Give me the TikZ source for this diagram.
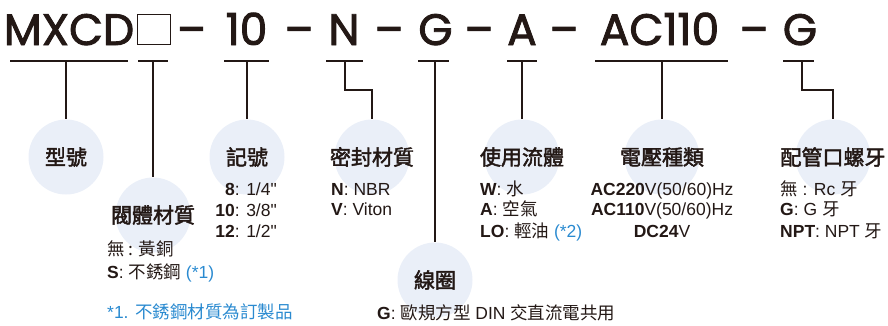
\documentclass[tikz,border=0pt]{standalone}
\usepackage{fontspec}
\setmainfont{Liberation Sans}
\newfontfamily\cjkfont{Noto Sans CJK TC}
\newfontfamily\qfont{Liberation Sans}
\newfontfamily\ttlfont{Poppins}
\newcommand\zhx[1]{{\cjkfont #1}}
\newcommand\qq{{\qfont"}}
\newcommand\heavy[2]{\special{pdf:literal direct 2 Tr #1 w}#2\special{pdf:literal direct 0 Tr 1 w}}
\definecolor{inkc}{HTML}{231815}
\definecolor{circc}{HTML}{EAEFF8}
\definecolor{bluec}{HTML}{2A8AD0}
\begin{document}
\begin{tikzpicture}[x=1pt,y=-1pt,
  ttl/.style={anchor=base,inner sep=0,text=inkc,font=\ttlfont\fontsize{44}{44}\selectfont},
  dsh/.style={anchor=base,inner sep=0,text=inkc,font=\ttlfont\fontsize{44}{44}\selectfont},
  conn/.style={draw=inkc,line width=1.1pt},
  bub/.style={circle,fill=circc,minimum size=75pt,inner sep=0},
  head/.style={inner sep=0,text=inkc,font=\cjkfont\fontsize{21}{21}\selectfont},
  body/.style={inner sep=0,text=inkc,font=\fontsize{17.5}{21}\selectfont,anchor=base west},
]
\useasboundingbox (0,0) rectangle (888,325);
% title
\node[ttl] (t1) at (69,45) {\heavy{0.9}{MXCD}};
\node[draw=inkc,line width=1.6pt,minimum width=33pt,minimum height=30pt,inner sep=0] (t2) at (154,29.5) {};
\node[dsh] (d1) at (191.5,45) {\heavy{0.9}{\scalebox{0.7}[1]{—}}};
\node[ttl] (t3) at (246.5,45) {\heavy{0.9}{10}};
\node[dsh] (d2) at (299,45) {\heavy{0.9}{\scalebox{0.7}[1]{—}}};
\node[ttl] (t4) at (344,45) {\heavy{0.9}{N}};
\node[dsh] (d3) at (389,45) {\heavy{0.9}{\scalebox{0.7}[1]{—}}};
\node[ttl] (t5) at (435.5,45) {\heavy{0.9}{G}};
\node[dsh] (d4) at (479,45) {\heavy{0.9}{\scalebox{0.7}[1]{—}}};
\node[ttl] (t6) at (522,45) {\heavy{0.9}{A}};
\node[dsh] (d5) at (564,45) {\heavy{0.9}{\scalebox{0.7}[1]{—}}};
\node[ttl] (t7) at (659.5,45) {\heavy{0.9}{AC110}};
\node[dsh] (d6) at (754,45) {\heavy{0.9}{\scalebox{0.7}[1]{—}}};
\node[ttl] (t8) at (800,45) {\heavy{0.9}{G}};
% underline coordinates
\coordinate (u1a) at (10,61); \coordinate (u1b) at (128,61); \coordinate (u1m) at (66,61);
\coordinate (u2a) at (138,61); \coordinate (u2b) at (168,61); \coordinate (u2m) at (153,61);
\coordinate (u3a) at (224,61); \coordinate (u3b) at (269,61); \coordinate (u3m) at (247,61);
\coordinate (u4a) at (326,61); \coordinate (u4b) at (363,61); \coordinate (u4m) at (345,61);
\coordinate (u5a) at (418,61); \coordinate (u5b) at (449,61); \coordinate (u5m) at (435,61);
\coordinate (u6a) at (507,61); \coordinate (u6b) at (537,61); \coordinate (u6m) at (522,61);
\coordinate (u7a) at (595,61); \coordinate (u7b) at (728,61); \coordinate (u7m) at (662,61);
\coordinate (u8a) at (783,61); \coordinate (u8b) at (814,61); \coordinate (u8m) at (802,61);
% bubbles
\node[bub] (c1) at (66,157) {};
\node[bub] (c2) at (153,215) {};
\node[bub] (c3) at (247,157) {};
\node[bub] (c4) at (372,157) {};
\node[bub] (c5) at (435,280) {};
\node[bub] (c6) at (522,157) {};
\node[bub] (c7) at (662,157) {};
\node[bub] (c8) at (833,157) {};
% connectors
\foreach \i in {1,...,8} {\draw[conn] (u\i a) -- (u\i b);}
\draw[conn] (u1m) -- (c1.north);
\draw[conn] (u2m) -- (c2.north);
\draw[conn] (u3m) -- (c3.north);
\draw[conn] (u4m) -- (345,90) -| (c4.north);
\draw[conn] (u5m) -- (c5.north);
\draw[conn] (u6m) -- (c6.north);
\draw[conn] (u7m) -- (c7.north);
\draw[conn] (u8m) -- (802,90) -| (c8.north);
% headings
\node[head] (h1) at (c1) {\heavy{0.45}{型號}};
\node[head] (h2) at (c2) {\heavy{0.45}{閥體材質}};
\node[head] (h3) at (c3) {\heavy{0.45}{記號}};
\node[head] (h4) at (c4) {\heavy{0.45}{密封材質}};
\node[head] (h5) at (c5) {\heavy{0.45}{線圈}};
\node[head] (h6) at (c6) {\heavy{0.45}{使用流體}};
\node[head] (h7) at (c7) {\heavy{0.45}{電壓種類}};
\node[head] (h8) at (c8) {\heavy{0.45}{配管口螺牙}};
% bodies
\node[body,anchor=base east] (b3a) at (277,195) {\textbf{8}: 1/4\qq};
\node[body,anchor=base east] (b3b) at (277,216) {\textbf{10}: 3/8\qq};
\node[body,anchor=base east] (b3c) at (277,237) {\textbf{12}: 1/2\qq};
\node[body] (b2a) at (107,255) {\zhx{無 : 黃銅}};
\node[body] (b2b) at (107,278) {\textbf{S}: \zhx{不銹鋼} \textcolor{bluec}{(*1)}};
\node[body,text=bluec] (fn) at (107,318) {*1. \zhx{不銹鋼材質為訂製品}};
\node[body] (b4a) at (331,195) {\textbf{N}: NBR};
\node[body] (b4b) at (331,215) {\textbf{V}: Viton};
\node[body] (b6a) at (480,195) {\textbf{W}: \zhx{水}};
\node[body] (b6b) at (480,215) {\textbf{A}: \zhx{空氣}};
\node[body] (b6c) at (480,237) {\textbf{LO}: \zhx{輕油} \textcolor{bluec}{(*2)}};
\node[body,anchor=base] (b7a) at (662,195) {\textbf{AC220}V(50/60)Hz};
\node[body,anchor=base] (b7b) at (662,215) {\textbf{AC110}V(50/60)Hz};
\node[body,anchor=base] (b7c) at (662,237) {\textbf{DC24}V};
\node[body] (b8a) at (780,195) {\zhx{無} : Rc \zhx{牙}};
\node[body] (b8b) at (780,215) {\textbf{G}: G \zhx{牙}};
\node[body] (b8c) at (780,237) {\textbf{NPT}: NPT \zhx{牙}};
\node[body] (b5) at (377,319) {\textbf{G}: \zhx{歐規方型} DIN \zhx{交直流電共用}};
\end{tikzpicture}
\end{document}
